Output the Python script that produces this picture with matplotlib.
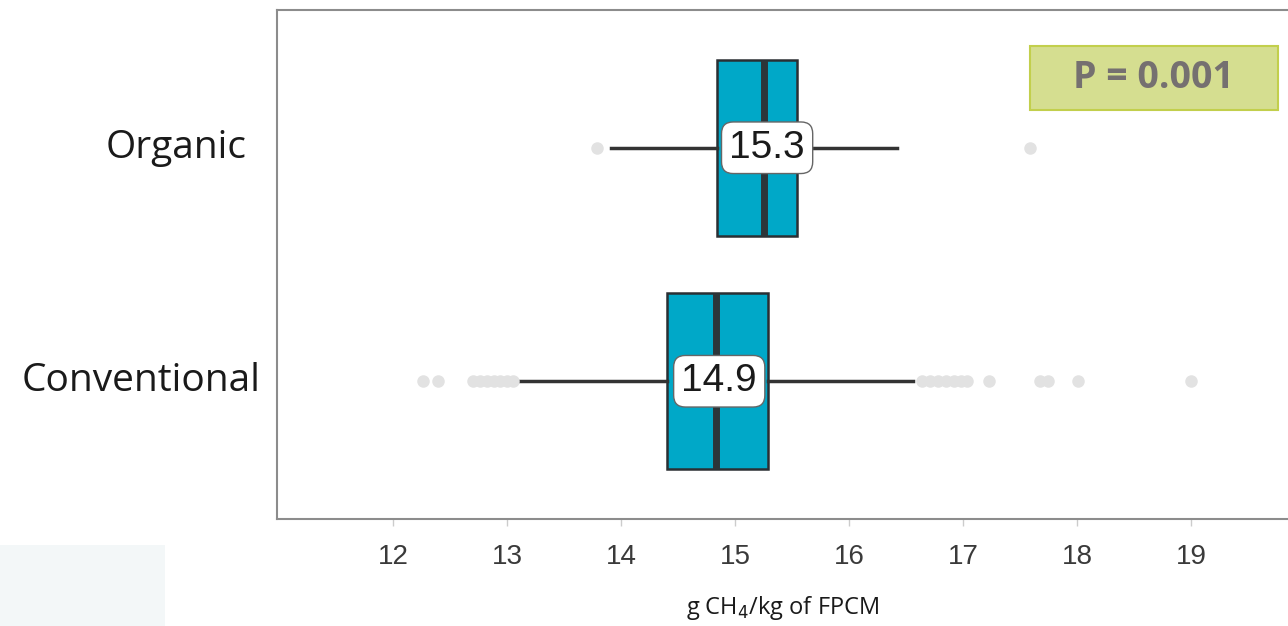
import numpy as np
import matplotlib.pyplot as plt
from matplotlib.patches import Rectangle

# groups, bottom to top
groups = ['Conventional', 'Organic']
q1 = [14.40, 14.84]
medians = [14.83, 15.25]
q3 = [15.29, 15.54]
whis_lo = [13.11, 13.91]
whis_hi = [16.56, 16.42]
fliers = [
    [12.26, 12.39, 12.70, 12.76, 12.82, 12.88, 12.94, 13.00, 13.05,
     16.64, 16.71, 16.78, 16.85, 16.92, 16.98, 17.03, 17.23, 17.67, 17.74, 18.01, 19.00],
    [13.79, 17.59],
]
mean_labels = ['14.9', '15.3']
p_text = 'P = 0.001'

fig = plt.figure(figsize=(12.88, 6.26), dpi=100)
fig.patches.append(Rectangle((0, 0), 165 / 1288, 81 / 626, transform=fig.transFigure,
                             facecolor='#f3f7f8', edgecolor='none', zorder=0))
ax = fig.add_axes([277 / 1288, 107 / 626, 1 - 277 / 1288, 509 / 626])

stats = []
for i in range(len(groups)):
    stats.append(dict(q1=q1[i], med=medians[i], q3=q3[i], whislo=whis_lo[i],
                      whishi=whis_hi[i], fliers=fliers[i], label=groups[i]))

ax.bxp(stats, positions=[0, 1], vert=False, widths=0.755, patch_artist=True,
       showcaps=False,
       boxprops=dict(facecolor='#00a8c8', edgecolor='#2a2f33', linewidth=1.8),
       medianprops=dict(color='#2c3539', linewidth=5),
       whiskerprops=dict(color='#333333', linewidth=2.5),
       flierprops=dict(marker='o', markersize=9, markerfacecolor='#e2e2e2',
                       markeredgecolor='none'))

for i, lab in enumerate(mean_labels):
    ax.text(medians[i] + 0.03, i, lab, ha='center', va='center', fontsize=28,
            family='Liberation Sans', color='#1a1a1a', zorder=5,
            bbox=dict(boxstyle='round,pad=0.2,rounding_size=0.3', facecolor='white',
                      edgecolor='#666666', linewidth=1))

ax.set_xlim(10.98, 19.85)
ax.set_ylim(-0.59, 1.59)
ax.set_xticks(range(12, 20))
ax.tick_params(axis='x', labelsize=20, colors='#cccccc', labelcolor='#3a3a3a',
               length=5, width=1, pad=13)
ax.set_yticks([])
for lab in ax.get_xticklabels():
    lab.set_family('Liberation Sans')

for s in ['left', 'top', 'bottom']:
    ax.spines[s].set_color('#8c8c8c')
    ax.spines[s].set_linewidth(1.5)
ax.spines['right'].set_visible(False)

ax.text(-0.03, 1, 'Organic', transform=ax.get_yaxis_transform(), ha='right', va='center',
        fontsize=28, family='Open Sans', color='#1a1a1a')
ax.text(-0.016, 0, 'Conventional', transform=ax.get_yaxis_transform(), ha='right', va='center',
        fontsize=28, family='Open Sans', color='#1a1a1a')

ax.set_xlabel('g CH$_4$/kg of FPCM', fontsize=17, family='Open Sans', color='#1a1a1a',
              labelpad=17)

ax.add_patch(Rectangle((0.745, 0.804), 0.245, 0.125, transform=ax.transAxes,
                       facecolor='#d5de90', edgecolor='#c2cf4c', linewidth=1.5, zorder=6))
ax.text(0.867, 0.866, p_text, transform=ax.transAxes, ha='center', va='center',
        fontsize=27, fontweight='bold', family='Open Sans', color='#757070', zorder=7)

fig.savefig('out.png', dpi=100)
